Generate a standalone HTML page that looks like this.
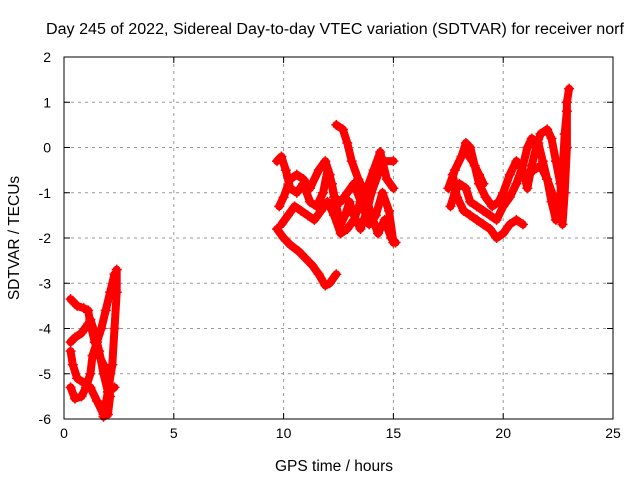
<!DOCTYPE html>
<html><head><meta charset="utf-8"><style>
body{margin:0;background:#fff}
svg{display:block;font-family:"Liberation Sans",sans-serif}
</style></head><body>
<svg id="chart" width="640" height="480" xmlns="http://www.w3.org/2000/svg">
<text x="335" y="34" font-size="15.5" text-anchor="middle" textLength="578" lengthAdjust="spacingAndGlyphs">Day 245 of 2022, Sidereal Day-to-day VTEC variation (SDTVAR) for receiver norf</text>
<text x="334" y="471" font-size="15.5" text-anchor="middle">GPS time / hours</text>
<text transform="translate(19,238) rotate(-90)" font-size="15.5" text-anchor="middle">SDTVAR / TECUs</text>
<g id="grid"></g><g id="ticks"></g><g id="marks"></g>
<rect x="64" y="57" width="549" height="362" fill="none" stroke="#000" stroke-width="1"/>
</svg>
<script>
const xTicks=[0,5,10,15,20,25];
const yTicks=[2,1,0,-1,-2,-3,-4,-5,-6];
const trackA=[[0.3,-3.35],[0.6,-3.5],[0.9,-3.55],[1.1,-3.6],[1.2,-3.9],[1.4,-4.3],[1.6,-4.6],[1.8,-4.8],[2.0,-5.0],[2.1,-5.5],[2.0,-5.9],[1.8,-5.95]];
const trackB=[[0.3,-4.3],[0.5,-4.2],[0.8,-4.1],[1.1,-3.9],[1.2,-3.8],[1.4,-4.1],[1.6,-4.5],[1.8,-5.0],[2.0,-5.4],[2.3,-5.3]];
const trackC=[[0.3,-5.3],[0.5,-5.55],[0.8,-5.5],[1.0,-5.3],[1.2,-5.0],[1.3,-4.6],[1.5,-4.3],[1.7,-4.0],[1.9,-3.6],[2.1,-3.2],[2.3,-2.8]];
const trackD=[[0.3,-4.5],[0.4,-4.8],[0.6,-5.1],[0.9,-5.2],[1.2,-5.3],[1.5,-5.6],[1.8,-5.9],[2.0,-5.4],[2.2,-4.8],[2.3,-4.0],[2.4,-3.2],[2.4,-2.7]];
const trackE=[[9.7,-1.8],[10.0,-2.0],[10.3,-2.15],[10.7,-2.3],[11.0,-2.45],[11.3,-2.6],[11.6,-2.8],[11.9,-3.05],[12.1,-3.0],[12.4,-2.8]];
const trackF=[[9.7,-0.3],[9.9,-0.2],[10.1,-0.5],[10.3,-0.9],[10.6,-1.0],[10.9,-0.8],[11.2,-1.2],[11.5,-1.3],[11.8,-1.0],[12.0,-0.5],[12.2,-0.8],[12.4,-1.3],[12.6,-1.7],[12.8,-1.5],[13.0,-1.2],[13.2,-1.5],[13.5,-1.8],[13.8,-1.4],[14.0,-1.0],[14.3,-0.6],[14.6,-0.3],[15.0,-0.3]];
const trackG=[[9.8,-1.3],[10.0,-1.1],[10.3,-0.7],[10.6,-0.6],[10.9,-0.7],[11.2,-0.9],[11.6,-0.5],[11.9,-0.3],[12.1,-0.6],[12.3,-1.1],[12.6,-1.2],[12.9,-1.0],[13.2,-0.8],[13.6,-1.3],[13.9,-1.7],[14.2,-1.5],[14.5,-1.0],[14.8,-1.4],[15.0,-2.1]];
const trackH=[[12.4,0.5],[12.7,0.4],[12.9,0.1],[13.1,-0.3],[13.4,-0.7],[13.7,-1.0],[14.0,-1.5],[14.3,-1.9],[14.6,-1.6],[14.9,-2.0],[15.1,-2.1]];
const trackI=[[9.9,-1.7],[10.2,-1.5],[10.5,-1.3],[10.8,-1.4],[11.1,-1.5],[11.4,-1.6],[11.7,-1.4],[12.0,-1.2],[12.3,-1.5],[12.6,-1.9],[12.9,-1.8],[13.2,-1.6],[13.5,-1.2],[13.8,-0.9],[14.1,-0.5],[14.4,-0.1],[14.7,-0.7],[15.0,-0.9]];
const trackJ=[[17.5,-0.9],[17.8,-0.5],[18.1,-0.2],[18.3,0.1],[18.5,0.0],[18.7,-0.4],[18.9,-0.8],[19.2,-1.1],[19.5,-1.3],[19.8,-1.2],[20.0,-1.0],[20.3,-0.6],[20.6,-0.3],[20.9,-0.5],[21.1,-0.9],[21.3,-0.4],[21.5,0.0],[21.7,0.3],[22.0,0.4],[22.2,0.2],[22.4,-0.3],[22.6,-0.8],[22.7,-1.3],[22.7,-1.7],[22.8,-1.0],[22.9,0.0],[22.9,1.0],[23.0,1.3]];
const trackK=[[17.6,-1.3],[17.8,-1.0],[18.0,-0.8],[18.3,-0.9],[18.5,-1.2],[18.8,-1.3],[19.1,-1.4],[19.4,-1.5],[19.7,-1.6],[20.0,-1.3],[20.3,-1.1],[20.6,-0.8],[20.9,-0.4],[21.1,0.0],[21.3,0.2],[21.6,0.1],[21.8,-0.3],[22.0,-0.7],[22.2,-1.2],[22.4,-1.6],[22.5,-1.3]];
const trackL=[[17.7,-0.6],[17.9,-1.1],[18.2,-1.4],[18.5,-1.5],[18.8,-1.6],[19.1,-1.7],[19.4,-1.8],[19.7,-2.0],[20.0,-1.9],[20.3,-1.7],[20.6,-1.6],[20.9,-1.7]];
const trackM=[[21.4,-0.5],[21.7,-0.4],[22.0,-0.7],[22.3,-1.1],[22.5,-1.5],[22.7,-0.6],[22.8,0.3],[22.9,0.8]];
const trackN=[[18.3,-0.1],[18.6,-0.3],[18.9,-0.6],[19.1,-0.8]];
const tracks=[trackA,trackB,trackC,trackD,trackE,trackF,trackG,trackH,trackI,trackJ,trackK,trackL,trackM,trackN];

const NS='http://www.w3.org/2000/svg';
const L=64,R=613,T=57,B=419;
const xs=v=>L+(v-0)/25*(R-L);
const ys=v=>T+(2-v)/8*(B-T);
function mk(tag,attrs,parent){const e=document.createElementNS(NS,tag);for(const k in attrs)e.setAttribute(k,attrs[k]);parent.appendChild(e);return e;}
const grid=document.getElementById('grid'),ticks=document.getElementById('ticks'),marks=document.getElementById('marks');
xTicks.forEach(t=>{const x=xs(t);
 if(t>0&&t<25){const g=mk('line',{x1:x,x2:x,y1:T,y2:B,stroke:'#999','stroke-dasharray':'3,4'},grid);
 
 }
 mk('line',{x1:x,x2:x,y1:B,y2:B-6,stroke:'#000'},ticks);mk('line',{x1:x,x2:x,y1:T,y2:T+6,stroke:'#000'},ticks);
 const lb=mk('text',{x:x,y:B+19,'font-size':14,'text-anchor':'middle'},ticks);lb.textContent=t;
 
 });
yTicks.forEach(t=>{const y=ys(t);
 if(t<2&&t>-6){const g=mk('line',{x1:L,x2:R,y1:y,y2:y,stroke:'#999','stroke-dasharray':'3,4'},grid);
 
 }
 mk('line',{x1:L,x2:L+6,y1:y,y2:y,stroke:'#000'},ticks);mk('line',{x1:R,x2:R-6,y1:y,y2:y,stroke:'#000'},ticks);
 const lb=mk('text',{x:L-13,y:y+5,'font-size':14,'text-anchor':'end'},ticks);lb.textContent=t;
 
 });
tracks.forEach((tr,i)=>{
 const pl=mk('polyline',{points:tr.map(p=>xs(p[0])+','+ys(p[1])).join(' '),fill:'none',stroke:'#f00','stroke-width':8,'stroke-linejoin':'round','stroke-linecap':'round'},marks);
 
 
 tr.forEach(p=>{const x=xs(p[0]),y=ys(p[1]);
  const m=mk('path',{d:`M${x-5},${y}H${x+5}M${x},${y-5}V${y+5}`,stroke:'#f00','stroke-width':1.5},marks);
  
  });
});
</script>
</body></html>
